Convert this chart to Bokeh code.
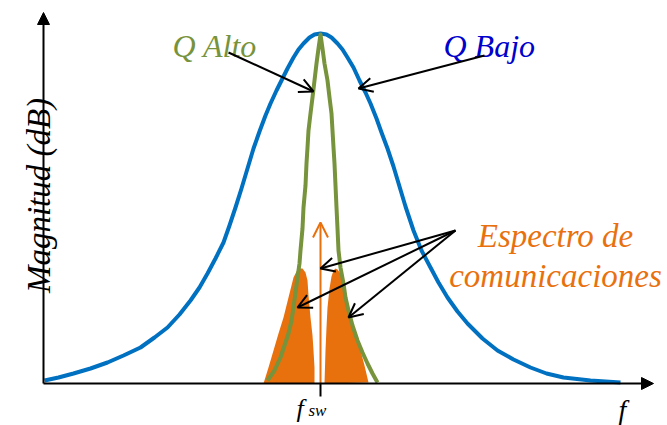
import math
from bokeh.plotting import figure
from bokeh.models import Range1d, Arrow, OpenHead, NormalHead
from bokeh.core.properties import value
from bokeh.embed import file_html
from bokeh.resources import INLINE

# Frequency offset from f_sw (arbitrary units) and magnitude (arbitrary units)
q_bajo_f = [-276, -262, -247, -230, -213, -197, -180, -166, -153, -141, -130, -121, -113,
            -105, -97, -91, -85, -79, -73, -67, -61, -55, -50, -44, -38, -33, -27, -22,
            -17, -11, -6, 0,
            6, 11, 17, 22, 27, 33, 39, 45, 50, 56, 61, 67, 73, 79, 85, 93, 101, 110,
            118, 127, 137, 147, 162, 177, 193, 210, 226, 243, 270, 300]
q_bajo_mag = [3, 6, 10, 15, 21, 28, 36, 46, 56, 69, 83, 96, 110,
              125, 141, 158, 176, 195, 215, 235, 252, 268, 280, 293, 305, 315, 326, 334,
              340, 346, 349, 350,
              349, 346, 340, 334, 326, 316, 303, 291, 280, 265, 251, 235, 217, 197, 177, 153, 133, 116,
              101, 86, 72, 60, 45, 33, 24, 16, 10, 6, 3, 1]

q_alto_f = [-53, -46, -40, -36, -32, -29, -27, -25, -23, -21, -20, -18, -17, -15, -14, -13,
            -12, -10, -8, -6, -4, -2, 0,
            2, 4, 7, 9, 11, 12, 13, 14, 15, 16, 17, 18, 20, 23, 25, 28, 32, 37, 42, 47, 52, 57]
q_alto_mag = [3, 13, 26, 38, 50, 63, 76, 91, 106, 120, 133, 155, 176, 198, 220, 236,
              253, 270, 286, 303, 320, 335, 349,
              335, 320, 303, 286, 270, 253, 236, 220, 198, 176, 155, 133, 116, 100, 86, 73, 58, 43, 31, 20, 10, 1]

lobe_left_f = [-57, -52, -47, -42, -37, -32, -27, -24, -21, -18, -15, -13, -12, -10, -8, -7, -6, -6]
lobe_left_mag = [0, 16, 33, 50, 66, 86, 106, 112, 115, 115, 111, 103, 88, 66, 48, 33, 16, 0]
lobe_right_f = [4, 5, 6, 7, 9, 11, 13, 15, 17, 20, 24, 27, 30, 33, 37, 40, 44, 48]
lobe_right_mag = [0, 33, 56, 76, 95, 107, 113, 115, 114, 110, 96, 83, 70, 56, 43, 33, 18, 1]

carrier_f = 0
carrier_mag = 161

axis_origin = (-277, 0)
y_axis_top = 371
x_axis_end = 333

BLUE = "#0070C0"
GREEN = "#77933C"
ORANGE = "#E8710E"
FONT = "Liberation Serif"

p = figure(width=667, height=425, output_backend="svg", toolbar_location=None,
           x_range=Range1d(-320, 347), y_range=Range1d(-42, 383),
           min_border=0, outline_line_color=None)
p.axis.visible = False
p.grid.visible = False
p.background_fill_color = "white"
p.border_fill_color = "white"

# orange lobes
p.patch(lobe_left_f, lobe_left_mag, fill_color=ORANGE, line_color=None)
p.patch(lobe_right_f, lobe_right_mag, fill_color=ORANGE, line_color=None)

# orange carrier arrow
p.add_layout(Arrow(x_start=carrier_f, y_start=0, x_end=carrier_f, y_end=carrier_mag,
                   line_color=ORANGE, line_width=2,
                   end=OpenHead(size=15, line_color=ORANGE, line_width=2)))

# curves
p.line(q_bajo_f, q_bajo_mag, line_color=BLUE, line_width=4, line_join="round")
p.line(q_alto_f, q_alto_mag, line_color=GREEN, line_width=4, line_join="round")

# axes
ox, oy = axis_origin
p.add_layout(Arrow(x_start=ox, y_start=oy, x_end=ox, y_end=y_axis_top,
                   line_color="black", line_width=2,
                   end=NormalHead(size=12, fill_color="black", line_color="black")))
p.add_layout(Arrow(x_start=ox, y_start=oy, x_end=x_axis_end, y_end=oy,
                   line_color="black", line_width=2,
                   end=NormalHead(size=12, fill_color="black", line_color="black")))
# f_sw tick
p.segment(x0=[carrier_f], y0=[0], x1=[carrier_f], y1=[-13], line_color="black", line_width=2)

# black annotation arrows
arrows = [((-92, 331), (-7, 292)),
          ((164, 328), (38, 295)),
          ((135, 153), (0, 115)),
          ((135, 153), (-23, 76)),
          ((135, 153), (28, 66))]
for (xs, ys), (xe, ye) in arrows:
    p.add_layout(Arrow(x_start=xs, y_start=ys, x_end=xe, y_end=ye,
                       line_color="black", line_width=2,
                       end=OpenHead(size=14, line_color="black", line_width=2)))

def lab(x, y, text, color="black", size="32px", align="left", angle=0.0):
    p.text(x=[x], y=[y], text=[text], text_color=color, text_font=value(FONT),
           text_font_size=size, text_font_style="italic", text_align=align,
           text_baseline="alphabetic", angle=angle)

lab(-148, 338, "Q Alto", GREEN)
lab(123, 338, "Q Bajo", "#0000CC")
lab(235, 148, "Espectro de", ORANGE, "33px", "center")
lab(235, 108, "comunicaciones", ORANGE, "33px", "center")
lab(-282, 188, "Magnitud (dB)", "black", "33px", "center", math.pi / 2)
lab(-24, -25, "f", "black", "26px")
lab(-12, -27, "sw", "black", "17px")
lab(298, -26, "f", "black", "28px")

open("out.html", "w").write(file_html(p, INLINE))
